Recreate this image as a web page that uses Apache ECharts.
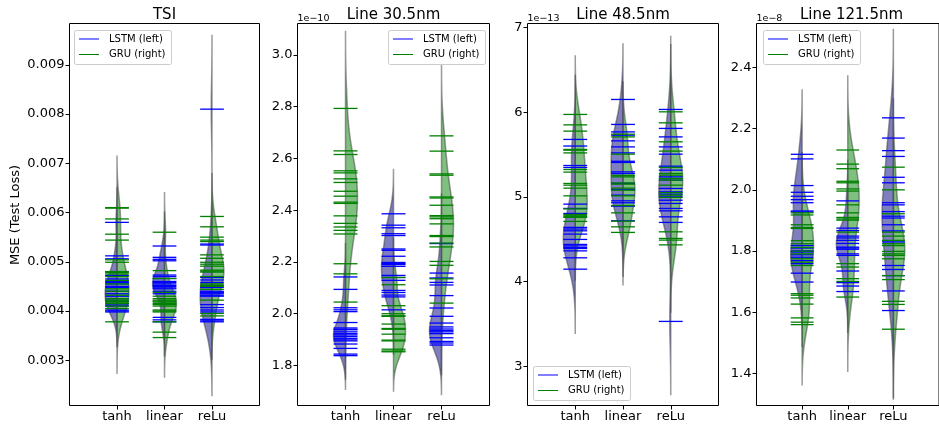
<!DOCTYPE html>
<html><head><meta charset="utf-8">
<script src="https://cdn.jsdelivr.net/npm/echarts@6/dist/echarts.min.js"></script>
<style>html,body{margin:0;padding:0;background:#fff}#c{width:939px;height:425px}</style>
</head><body><div id="c"></div>
<script>
const categories = ['tanh', 'linear', 'reLu'];
const panelTitles = ['TSI', 'Line 30.5nm', 'Line 48.5nm', 'Line 121.5nm'];
const offsetTexts = ['', '1e\u221210', '1e\u221213', '1e\u22128'];
const legendNames = ['LSTM (left)', 'GRU (right)'];

const yTicks1 = [0.003, 0.004, 0.005, 0.006, 0.007, 0.008, 0.009];
const yTicks2 = [1.8, 2.0, 2.2, 2.4, 2.6, 2.8, 3.0];
const yTicks3 = [3, 4, 5, 6, 7];
const yTicks4 = [1.4, 1.6, 1.8, 2.0, 2.2, 2.4];

// TSI (MSE)
const tsiLSTM = [
  [0.0058, 0.00512, 0.00506, 0.0048, 0.00472, 0.00465, 0.0046, 0.00458, 0.00455, 0.0045, 0.00448, 0.0044, 0.00435, 0.0043, 0.00425, 0.0042, 0.00415, 0.00412, 0.0041, 0.00402, 0.004, 0.00398],
  [0.00532, 0.00509, 0.00505, 0.00502, 0.00473, 0.0047, 0.00466, 0.0046, 0.00458, 0.00455, 0.00452, 0.0045, 0.00447, 0.00445, 0.0044, 0.00435, 0.00387, 0.00382, 0.00378],
  [0.0081, 0.00536, 0.00534, 0.00468, 0.00463, 0.00458, 0.00452, 0.00448, 0.0044, 0.00438, 0.00437, 0.00435, 0.00432, 0.0043, 0.00413, 0.00407, 0.00402, 0.00398, 0.00383, 0.0038, 0.00378]
];
const tsiGRU = [
  [0.0061, 0.00609, 0.00587, 0.00556, 0.00544, 0.00504, 0.00499, 0.0048, 0.00478, 0.00475, 0.0047, 0.00462, 0.00455, 0.00445, 0.0044, 0.00432, 0.00425, 0.00422, 0.0042, 0.00418, 0.00415, 0.0041, 0.00405, 0.00378],
  [0.0056, 0.00482, 0.00466, 0.00438, 0.0043, 0.00425, 0.00422, 0.0042, 0.00418, 0.00415, 0.00413, 0.0041, 0.00402, 0.004, 0.00398, 0.00378, 0.00357, 0.00346],
  [0.00592, 0.00571, 0.0055, 0.00544, 0.00541, 0.00514, 0.00507, 0.00499, 0.00495, 0.00491, 0.00483, 0.00481, 0.00479, 0.0047, 0.00455, 0.00452, 0.0045, 0.00444, 0.00422, 0.00395, 0.0039]
];
// Line 30.5nm (x1e-10)
const l30LSTM = [
  [2.142, 2.094, 2.023, 2.015, 2.008, 1.966, 1.945, 1.94, 1.938, 1.93, 1.923, 1.918, 1.912, 1.905, 1.899, 1.895, 1.883, 1.866, 1.844, 1.838],
  [2.386, 2.342, 2.332, 2.309, 2.302, 2.25, 2.245, 2.222, 2.198, 2.194, 2.19, 2.183, 2.148, 2.14, 2.129, 2.09, 2.082, 2.072, 2.065, 2.015],
  [2.271, 2.157, 2.138, 2.121, 2.111, 2.07, 2.022, 1.99, 1.964, 1.949, 1.941, 1.935, 1.93, 1.923, 1.907, 1.893, 1.887, 1.879]
];
const l30GRU = [
  [2.793, 2.629, 2.615, 2.552, 2.544, 2.521, 2.507, 2.473, 2.454, 2.431, 2.426, 2.378, 2.349, 2.335, 2.322, 2.308, 2.193, 2.154, 2.045],
  [2.14, 2.112, 2.031, 2.0, 1.992, 1.99, 1.96, 1.943, 1.94, 1.921, 1.898, 1.895, 1.863, 1.856, 1.853],
  [2.687, 2.628, 2.54, 2.535, 2.451, 2.447, 2.419, 2.379, 2.374, 2.367, 2.347, 2.302, 2.298, 2.273, 2.258, 2.202, 2.187, 2.135, 2.041]
];
// Line 48.5nm (x1e-13)
const l48LSTM = [
  [5.678, 5.6, 5.37, 5.347, 4.914, 4.863, 4.804, 4.639, 4.62, 4.599, 4.56, 4.497, 4.438, 4.421, 4.402, 4.39, 4.362, 4.28, 4.146],
  [6.15, 5.855, 5.767, 5.728, 5.661, 5.59, 5.519, 5.42, 5.406, 5.295, 5.276, 5.158, 5.087, 5.02, 4.953, 4.93, 4.89, 4.717],
  [6.032, 5.808, 5.708, 5.59, 5.504, 5.362, 5.315, 5.236, 5.197, 5.099, 5.059, 5.032, 5.0, 4.96, 4.922, 4.863, 4.835, 4.764, 4.698, 3.529]
];
const l48GRU = [
  [5.973, 5.85, 5.776, 5.56, 5.551, 5.519, 5.323, 5.292, 5.158, 5.138, 5.103, 5.012, 4.858, 4.792, 4.776, 4.765, 4.757, 4.71],
  [5.74, 5.708, 5.504, 5.253, 5.236, 5.165, 5.15, 5.103, 5.079, 5.012, 4.898, 4.811, 4.713, 4.646, 4.58],
  [6.004, 5.874, 5.65, 5.54, 5.347, 5.276, 5.256, 5.217, 5.197, 5.138, 5.05, 5.02, 4.993, 4.587, 4.509, 4.489, 4.433]
];
// Line 121.5nm (x1e-8)
const l121LSTM = [
  [2.116, 2.101, 2.014, 1.992, 1.979, 1.968, 1.958, 1.931, 1.928, 1.818, 1.81, 1.801, 1.797, 1.788, 1.78, 1.769, 1.759, 1.728, 1.699],
  [1.964, 1.875, 1.867, 1.849, 1.843, 1.835, 1.825, 1.813, 1.81, 1.806, 1.791, 1.786, 1.735, 1.697, 1.686, 1.668],
  [2.235, 2.169, 2.128, 2.109, 2.041, 2.023, 1.958, 1.951, 1.929, 1.914, 1.908, 1.886, 1.866, 1.83, 1.753, 1.74, 1.72, 1.67, 1.606]
];
const l121GRU = [
  [1.925, 1.918, 1.886, 1.877, 1.874, 1.834, 1.824, 1.812, 1.8, 1.791, 1.775, 1.764, 1.753, 1.661, 1.656, 1.647, 1.627, 1.582, 1.568, 1.56],
  [2.13, 2.084, 2.069, 2.028, 2.023, 2.003, 1.996, 1.951, 1.925, 1.91, 1.905, 1.901, 1.862, 1.759, 1.748, 1.71, 1.701, 1.65],
  [2.074, 2.0, 1.922, 1.862, 1.849, 1.835, 1.824, 1.818, 1.799, 1.791, 1.786, 1.775, 1.72, 1.707, 1.636, 1.626, 1.545]
];

const panelData = [[tsiLSTM, tsiGRU], [l30LSTM, l30GRU], [l48LSTM, l48GRU], [l121LSTM, l121GRU]];
const yTicks = [yTicks1, yTicks2, yTicks3, yTicks4];
const yRanges = [[0.00208, 0.00984], [1.6455, 3.121], [2.536, 7.047], [1.296, 2.543]];
const yDecimals = [3, 1, 0, 1];
const grids = [
  {left: 69.5, top: 23.5, width: 190, height: 382},
  {left: 297.5, top: 23.5, width: 192, height: 382},
  {left: 527.5, top: 23.5, width: 191, height: 382},
  {left: 756.5, top: 23.5, width: 190, height: 382}
];
const legendBoxes = [[74, 30], [388, 30], [533, 366], [763, 30]];

const HALF = 0.25;
const FONT = 'DejaVu Sans';
const lineColors = ['#0000ff', '#008000'];
const fillColors = ['rgba(0,0,128,0.5)', 'rgba(0,128,0,0.5)'];

function kde(vals) {
  const n = vals.length;
  const mean = vals.reduce((a, b) => a + b, 0) / n;
  const sd = Math.sqrt(vals.reduce((a, b) => a + (b - mean) * (b - mean), 0) / (n - 1));
  const bw = sd * Math.pow(n, -0.2);
  const lo = Math.min(...vals) - 3 * bw, hi = Math.max(...vals) + 3 * bw;
  const G = 100, ys = [], d = [];
  let mx = 0;
  for (let i = 0; i < G; i++) {
    const y = lo + (hi - lo) * i / (G - 1);
    let s = 0;
    for (const v of vals) { const z = (y - v) / bw; s += Math.exp(-0.5 * z * z); }
    ys.push(y); d.push(s); if (s > mx) mx = s;
  }
  return {ys, d: d.map(x => x / mx)};
}

const series = [];
const xAxes = [], yAxes = [];
panelData.forEach((pd, p) => {
  xAxes.push({
    type: 'value', gridIndex: p, min: -1, max: 3, position: 'bottom',
    axisLine: {show: false, onZero: false}, splitLine: {show: false},
    axisTick: {show: true, customValues: [0, 1, 2], length: 4, lineStyle: {color: '#000', width: 1}},
    axisLabel: {customValues: [0, 1, 2], formatter: v => categories[Math.round(v)], color: '#000', fontSize: 13, fontFamily: FONT, margin: 5}
  });
  yAxes.push({
    type: 'value', gridIndex: p, min: yRanges[p][0], max: yRanges[p][1], position: 'left',
    axisLine: {show: false, onZero: false}, splitLine: {show: false},
    axisTick: {show: true, customValues: yTicks[p], length: 4, lineStyle: {color: '#000', width: 1}},
    axisLabel: {customValues: yTicks[p], formatter: v => v.toFixed(yDecimals[p]), color: '#000', fontSize: 13, fontFamily: FONT, margin: 5}
  });
  const vdata = [];
  for (let c = 0; c < 3; c++) for (let s = 0; s < 2; s++) vdata.push([c, s]);
  series.push({
    type: 'custom', xAxisIndex: p, yAxisIndex: p, silent: true, z: 2,
    data: vdata,
    renderItem: (params, api) => {
      const c = api.value(0), s = api.value(1);
      const k = kde(pd[s][c]);
      const dir = s === 0 ? -1 : 1;
      const pts = [];
      for (let i = 0; i < k.ys.length; i++) pts.push(api.coord([c + dir * HALF * k.d[i], k.ys[i]]));
      pts.push(api.coord([c, k.ys[k.ys.length - 1]]));
      pts.push(api.coord([c, k.ys[0]]));
      return {type: 'polygon', shape: {points: pts},
        style: {fill: fillColors[s], stroke: 'rgba(60,60,60,0.5)', lineWidth: 1.5}};
    }
  });
  for (let s = 0; s < 2; s++) {
    const ldata = [];
    for (let c = 0; c < 3; c++) pd[s][c].forEach(v => ldata.push([c, v]));
    series.push({
      type: 'custom', xAxisIndex: p, yAxisIndex: p, silent: true, z: 3 + s,
      data: ldata,
      renderItem: (params, api) => {
        const c = api.value(0), v = api.value(1);
        const a = api.coord([c - HALF, v]), b = api.coord([c + HALF, v]);
        return {type: 'line', shape: {x1: a[0], y1: a[1], x2: b[0], y2: b[1]},
          style: {stroke: lineColors[s], fill: null, lineWidth: 1.3}};
      }
    });
  }
});

const graphic = [];
grids.forEach((g, p) => {
  graphic.push({type: 'text', x: g.left + g.width / 2, y: 15,
    style: {text: panelTitles[p], fontSize: 15, fontFamily: FONT, fill: '#000', align: 'center', verticalAlign: 'middle'}});
  if (offsetTexts[p]) graphic.push({type: 'text', x: g.left, y: 19,
    style: {text: offsetTexts[p], fontSize: 9.5, fontFamily: FONT, fill: '#000', align: 'left', verticalAlign: 'middle'}});
  const [L, T] = legendBoxes[p];
  graphic.push({type: 'rect', shape: {x: L + 0.5, y: T + 0.5, width: 97, height: 34, r: 2},
    style: {fill: 'rgba(255,255,255,0.8)', stroke: '#cccccc', lineWidth: 1}, z: 10});
  const rows = [T + 9, T + 24.5];
  for (let s = 0; s < 2; s++) {
    graphic.push({type: 'line', shape: {x1: L + 5, y1: rows[s], x2: L + 25, y2: rows[s]},
      style: {stroke: lineColors[s], lineWidth: 1}, z: 11});
    graphic.push({type: 'text', x: L + 35, y: rows[s],
      style: {text: legendNames[s], fontSize: 10, fontFamily: FONT, fill: '#000', align: 'left', verticalAlign: 'middle'}, z: 11});
  }
});
graphic.push({type: 'text', x: 16, y: 215, rotation: Math.PI / 2,
  style: {text: 'MSE (Test Loss)', fontSize: 13, fontFamily: FONT, fill: '#000', align: 'center', verticalAlign: 'middle'}});

const chart = echarts.init(document.getElementById('c'), null, {renderer: 'canvas'});
chart.setOption({
  animation: false,
  backgroundColor: '#fff',
  grid: grids.map(g => Object.assign({show: true, borderColor: '#000', borderWidth: 1, backgroundColor: 'transparent', containLabel: false}, g)),
  xAxis: xAxes, yAxis: yAxes,
  series: series,
  graphic: graphic
});
</script></body></html>
